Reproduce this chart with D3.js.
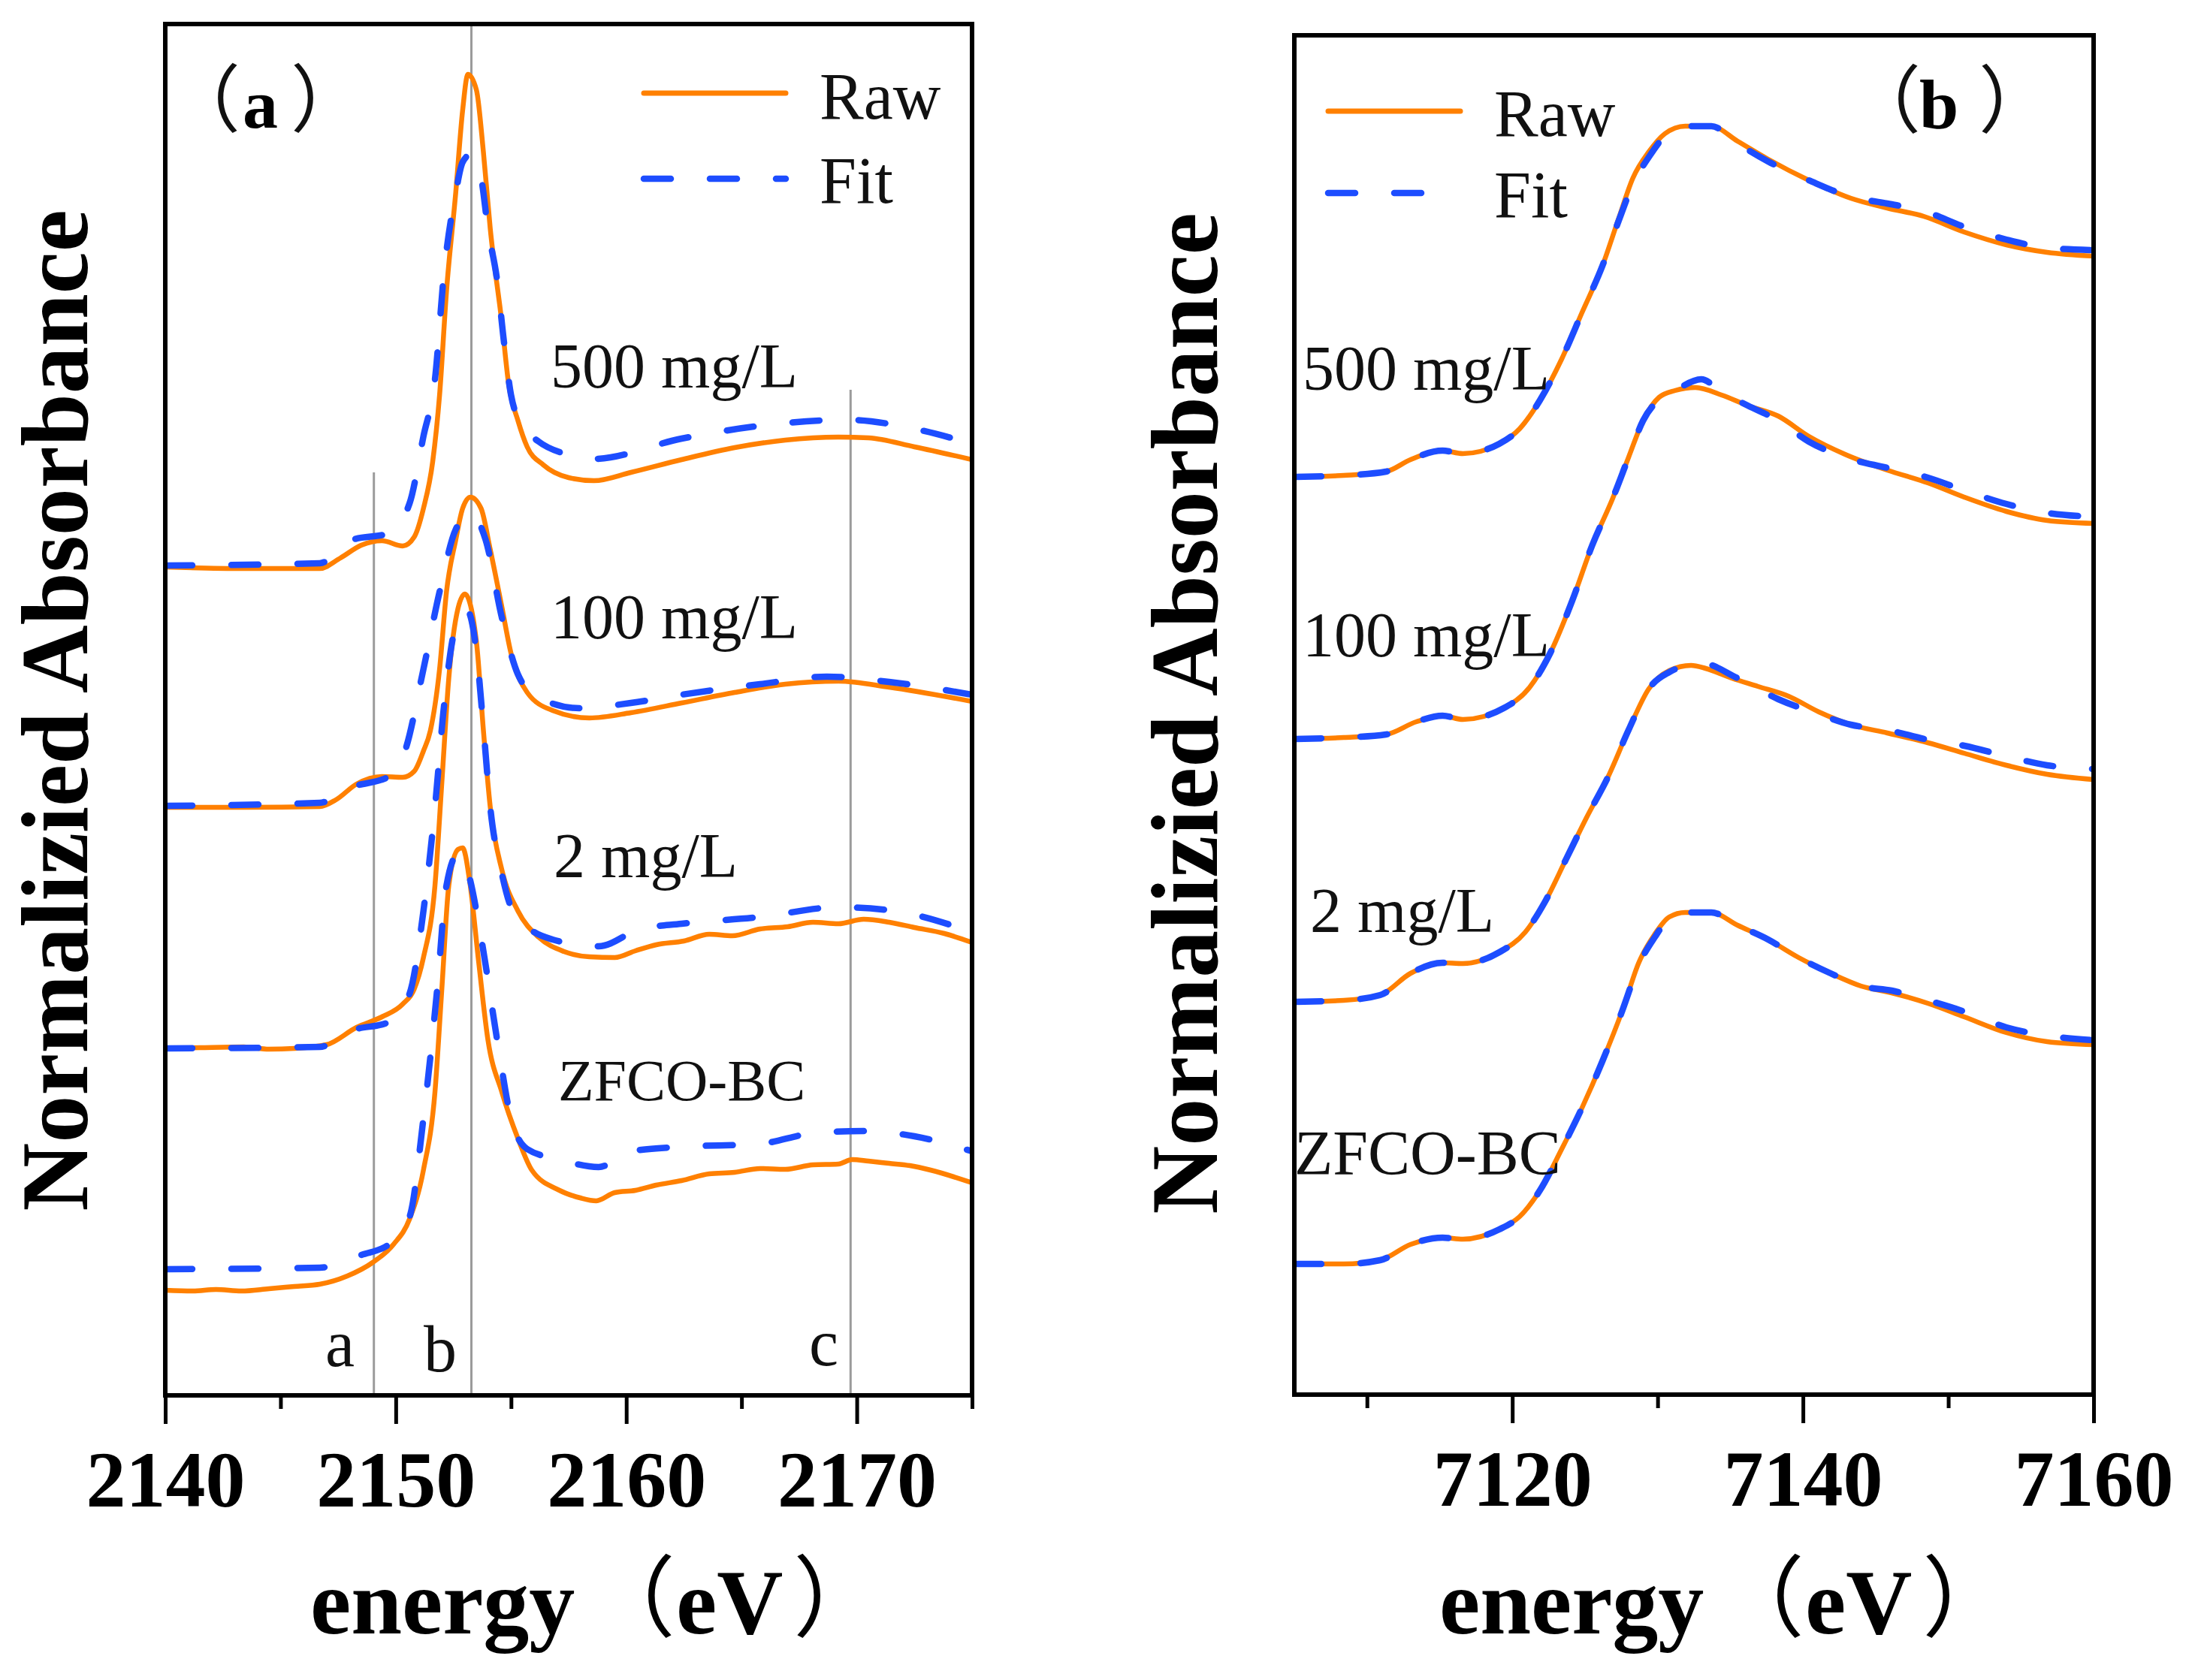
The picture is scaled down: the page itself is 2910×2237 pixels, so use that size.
<!DOCTYPE html>
<html>
<head>
<meta charset="utf-8">
<script src="https://cdn.jsdelivr.net/npm/d3@7"></script>
<style>
  html, body { margin: 0; padding: 0; background: #fff; }
  svg { display: block; }
</style>
</head>
<body>
<div id="chart"></div>
<script>
// ---- panel (a): S K-edge, [energy eV, offset normalized absorbance] ----
const aRaw500 = [[2140,11.03],[2143.4,11.01],[2146.7,11.01],[2147.6,11.15],[2148.5,11.32],[2149.4,11.38],[2150.3,11.31],[2150.8,11.43],[2151.2,11.81],[2151.6,12.43],[2151.9,13.32],[2152.2,14.70],[2152.6,16.01],[2152.9,17.11],[2153.13,17.59],[2153.5,17.38],[2153.8,16.56],[2154.1,15.53],[2154.6,14.29],[2154.9,13.46],[2155.3,12.98],[2155.7,12.63],[2156.4,12.39],[2157.5,12.22],[2158.6,12.18],[2160.2,12.29],[2162.4,12.46],[2164.7,12.62],[2166.9,12.72],[2169.2,12.76],[2170.5,12.75],[2172.5,12.63],[2175,12.46]];
const aFit500 = [[2140,11.05],[2146.7,11.08],[2148.1,11.39],[2149.7,11.48],[2150.6,11.88],[2151.2,12.77],[2151.7,13.53],[2152.1,14.97],[2152.6,16.01],[2152.9,16.42],[2153.24,16.52],[2153.7,16.21],[2154.0,15.53],[2154.4,14.84],[2154.7,14.01],[2155.0,13.32],[2155.5,12.91],[2156.2,12.70],[2157.3,12.54],[2158.6,12.47],[2162.4,12.74],[2165.8,12.91],[2169.6,12.99],[2172.5,12.87],[2175,12.67]];
const aRaw100 = [[2140,7.83],[2143.4,7.83],[2146.7,7.84],[2147.4,7.93],[2148.3,8.14],[2149.4,8.24],[2150.3,8.23],[2150.8,8.31],[2151.2,8.58],[2151.5,8.85],[2151.9,9.67],[2152.2,10.70],[2152.6,11.39],[2152.9,11.81],[2153.24,11.96],[2153.7,11.81],[2154.1,11.26],[2154.6,10.50],[2155.0,9.88],[2155.7,9.36],[2156.8,9.12],[2158.4,9.02],[2160.2,9.09],[2162.4,9.22],[2164.7,9.36],[2166.9,9.47],[2169.2,9.51],[2171.4,9.43],[2175,9.24]];
const aFit100 = [[2140,7.85],[2146.7,7.89],[2148.1,8.10],[2149.7,8.24],[2150.4,8.58],[2151.2,9.67],[2151.9,10.70],[2152.6,11.53],[2153.24,11.74],[2153.9,11.39],[2154.6,10.36],[2155.3,9.60],[2156.2,9.29],[2158.0,9.15],[2160.2,9.22],[2162.4,9.33],[2165.8,9.47],[2168.7,9.57],[2171.4,9.50],[2175,9.33]];
const aRaw2 = [[2140,4.62],[2141.5,4.63],[2143.4,4.64],[2144.5,4.61],[2145.6,4.62],[2147.0,4.67],[2148.3,4.90],[2149.4,5.04],[2150.3,5.21],[2150.8,5.41],[2151.2,5.83],[2151.7,6.79],[2152.0,8.17],[2152.3,9.55],[2152.7,10.48],[2153.0,10.67],[2153.5,10.03],[2153.8,8.86],[2154.1,7.83],[2154.6,7.00],[2155.3,6.45],[2156.2,6.10],[2157.3,5.91],[2158.4,5.84],[2159.5,5.83],[2160.4,5.92],[2161.3,6.00],[2162.5,6.05],[2163.6,6.14],[2164.6,6.12],[2165.8,6.21],[2167.0,6.24],[2168.1,6.30],[2169.2,6.28],[2170.3,6.34],[2171.4,6.30],[2172.5,6.23],[2173.8,6.15],[2175,6.03]];
const aFit2 = [[2140,4.62],[2146.7,4.64],[2148.1,4.86],[2149.7,4.97],[2150.6,5.35],[2151.2,6.45],[2151.7,7.83],[2152.1,9.20],[2152.6,10.24],[2153.1,10.45],[2153.5,9.90],[2153.8,8.90],[2154.1,7.83],[2154.6,6.95],[2155.0,6.50],[2155.7,6.24],[2156.8,6.07],[2158.8,5.98],[2160.6,6.21],[2162.4,6.28],[2165.8,6.37],[2169.2,6.50],[2171.4,6.46],[2175,6.17]];
const aRawZ = [[2140,1.40],[2141.2,1.39],[2142.2,1.41],[2143.3,1.39],[2144.5,1.42],[2145.6,1.45],[2146.7,1.48],[2147.9,1.59],[2149.0,1.77],[2149.9,2.01],[2150.6,2.35],[2151.2,3.00],[2151.7,4.04],[2152.0,5.42],[2152.3,6.79],[2152.7,7.27],[2152.9,7.29],[2153.2,6.86],[2153.6,5.76],[2154.0,4.73],[2154.6,4.04],[2155.3,3.42],[2155.9,3.00],[2157.1,2.73],[2158.0,2.63],[2158.7,2.59],[2159.5,2.70],[2160.4,2.73],[2161.3,2.80],[2162.4,2.86],[2163.6,2.95],[2164.7,2.97],[2165.8,3.02],[2166.9,3.01],[2168.1,3.07],[2169.2,3.08],[2169.8,3.14],[2170.5,3.12],[2171.4,3.09],[2172.3,3.06],[2173.2,3.00],[2175,2.83]];
const aFitZ = [[2140,1.68],[2146.7,1.70],[2148.5,1.87],[2149.7,2.01],[2150.6,2.38],[2151.2,3.69],[2151.8,5.42],[2152.2,6.79],[2152.7,7.21],[2153.1,7.00],[2153.7,6.10],[2154.4,4.73],[2155.0,3.69],[2155.7,3.28],[2157.1,3.14],[2158.8,3.04],[2160.2,3.25],[2162.4,3.31],[2165.8,3.35],[2168.1,3.49],[2170.3,3.52],[2172.5,3.45],[2175,3.25]];

// ---- panel (b): Fe K-edge ----
const bRaw500 = [[7105,12.22],[7108.4,12.24],[7111.3,12.29],[7113.0,12.45],[7115.2,12.57],[7116.6,12.53],[7119.1,12.66],[7120.5,12.86],[7121.9,13.24],[7123.4,13.79],[7124.8,14.41],[7126.2,15.03],[7127.3,15.65],[7128.3,16.20],[7129.4,16.55],[7130.5,16.79],[7131.9,16.89],[7133.7,16.89],[7135.5,16.69],[7137.6,16.45],[7140.4,16.17],[7143.3,15.93],[7145.8,15.80],[7148.3,15.69],[7151.1,15.48],[7154.0,15.31],[7156.8,15.21],[7160,15.16]];
const bFit500 = [[7105,12.22],[7108.4,12.24],[7111.3,12.29],[7113.0,12.45],[7115.2,12.57],[7116.6,12.53],[7119.1,12.66],[7120.5,12.86],[7121.9,13.24],[7123.4,13.79],[7124.8,14.41],[7126.2,15.03],[7127.3,15.62],[7128.3,16.12],[7129.4,16.48],[7130.5,16.76],[7131.9,16.89],[7133.7,16.89],[7135.5,16.66],[7137.6,16.42],[7140.4,16.17],[7143.3,15.95],[7145.8,15.86],[7148.3,15.76],[7151.1,15.55],[7154.0,15.38],[7156.8,15.27],[7160,15.24]];
const bRaw100 = [[7105,8.73],[7108.4,8.75],[7111.3,8.79],[7113.4,8.96],[7115.2,9.04],[7116.6,8.99],[7119.4,9.14],[7121.2,9.42],[7122.6,9.87],[7124.1,10.56],[7125.5,11.31],[7126.9,11.93],[7128.0,12.48],[7129.0,12.97],[7130.1,13.28],[7131.2,13.37],[7132.6,13.41],[7134.4,13.31],[7136.2,13.17],[7138.3,13.03],[7140.4,12.76],[7142.9,12.52],[7145.8,12.31],[7148.6,12.14],[7151.1,11.95],[7154.0,11.76],[7156.8,11.64],[7160,11.60]];
const bFit100 = [[7105,8.73],[7108.4,8.75],[7111.3,8.79],[7113.4,8.96],[7115.2,9.04],[7116.6,8.99],[7119.4,9.14],[7121.2,9.42],[7122.6,9.87],[7124.1,10.56],[7125.5,11.31],[7126.9,11.93],[7128.0,12.48],[7129.0,12.97],[7130.1,13.25],[7131.2,13.37],[7133.0,13.52],[7134.4,13.35],[7136.2,13.17],[7138.3,12.97],[7140.4,12.69],[7142.9,12.48],[7145.8,12.34],[7148.6,12.21],[7151.1,12.04],[7154.0,11.86],[7156.8,11.74],[7160,11.69]];
const bRaw2 = [[7105,5.23],[7108.4,5.25],[7110.9,5.32],[7113.0,5.61],[7115.2,5.75],[7116.6,5.74],[7119.1,5.89],[7120.9,6.16],[7122.3,6.58],[7123.7,7.13],[7125.1,7.68],[7126.6,8.23],[7128.0,8.85],[7129.4,9.40],[7130.8,9.64],[7132.3,9.71],[7133.3,9.67],[7135.1,9.54],[7136.9,9.43],[7139.0,9.30],[7141.1,9.09],[7143.3,8.92],[7145.8,8.81],[7148.6,8.68],[7151.1,8.54],[7154.0,8.38],[7156.8,8.26],[7160,8.19]];
const bFit2 = [[7105,5.23],[7108.4,5.25],[7110.9,5.32],[7113.0,5.61],[7115.2,5.75],[7116.6,5.74],[7119.1,5.89],[7120.9,6.16],[7122.3,6.58],[7123.7,7.13],[7125.1,7.68],[7126.6,8.23],[7128.0,8.85],[7129.4,9.40],[7130.8,9.62],[7133.0,9.74],[7135.5,9.54],[7138.3,9.26],[7141.1,9.06],[7143.3,8.92],[7145.8,8.85],[7148.6,8.72],[7151.1,8.64],[7154.0,8.50],[7156.8,8.38],[7160,8.33]];
const bRawZ = [[7105,1.74],[7108.4,1.74],[7110.9,1.79],[7113.0,2.00],[7115.2,2.09],[7116.6,2.07],[7119.1,2.20],[7120.5,2.37],[7121.9,2.72],[7123.4,3.27],[7124.8,3.82],[7126.2,4.44],[7127.6,5.13],[7128.7,5.75],[7129.8,6.13],[7130.8,6.36],[7131.9,6.42],[7133.7,6.42],[7135.5,6.25],[7137.6,6.06],[7139.7,5.82],[7141.9,5.61],[7144.0,5.44],[7146.1,5.35],[7148.6,5.21],[7151.1,5.03],[7154.0,4.82],[7156.8,4.70],[7160,4.66]];
const bFitZ = [[7105,1.74],[7108.4,1.74],[7110.9,1.79],[7113.0,2.00],[7115.2,2.09],[7116.6,2.07],[7119.1,2.20],[7120.5,2.37],[7121.9,2.72],[7123.4,3.27],[7124.8,3.82],[7126.2,4.44],[7127.6,5.13],[7128.7,5.72],[7129.8,6.09],[7130.8,6.34],[7131.9,6.42],[7133.7,6.42],[7135.5,6.25],[7137.6,6.06],[7139.7,5.82],[7141.9,5.61],[7144.0,5.44],[7146.1,5.38],[7148.6,5.25],[7151.1,5.10],[7154.0,4.89],[7156.8,4.78],[7160,4.72]];

// sample names with label anchors [energy, value]
const sampleNames = ["500 mg/L", "100 mg/L", "2 mg/L", "ZFCO-BC"];
const aLabelAt = [[2156.72,13.42],[2156.72,10.08],[2156.85,6.90],[2157.04,3.93]];
const bLabelAt = [[7105.57,13.38],[7105.57,9.83],[7106.09,6.16],[7105.0,2.93]];

// feature lines a, b, c in panel (a): energy, top value, letter position
const featNames = ["a", "b", "c"];
const featEnergy = [2149.05, 2153.28, 2169.73];
const featTop = [12.29, 18.26, 13.39];
const featLetterAt = [[2146.94,0.39],[2151.21,0.32],[2167.93,0.40]];

const aMajor = [2140, 2150, 2160, 2170], aMinor = [2145, 2155, 2165, 2175];
const bMajor = [7120, 7140, 7160], bMinor = [7110, 7130, 7150];

const W = 2910, H = 2237;
const serif = "'Liberation Serif', 'Times New Roman', 'Noto Sans CJK SC', serif";
const cjk = "'Noto Sans CJK SC', 'Noto Sans CJK JP', sans-serif";
const orange = "#ff8000", blue = "#1d4dff";
const dash = "36,52";

const svg = d3.select("#chart").append("svg")
    .attr("width", W)
    .attr("height", H)
    .style("background", "#fff");

const panels = [
    {id: "a", x0: 220, x1: 1294, y0: 32, y1: 1858, domain: [2140, 2175], yMax: 18.26,
     major: aMajor, minor: aMinor,
     raw: [aRaw500, aRaw100, aRaw2, aRawZ], fit: [aFit500, aFit100, aFit2, aFitZ],
     labelAt: aLabelAt, labelSize: [84, 84, 84, 78],
     legend: {x0: 857, x1: 1046, tx: 1091, rawY: 124, rawBase: 158, fitY: 238, fitBase: 270},
     tag: {lp: 222, letter: 323, rp: 387, y: 170}, yTitle: {x: 116, y: 946},
     xTitle: {x: 413, lp: 781, unit: 900, rp: 1056, y: 2175}, feats: true},
    {id: "b", x0: 1723, x1: 2787, y0: 47, y1: 1857, domain: [7105, 7160], yMax: 18.10,
     major: bMajor, minor: bMinor,
     raw: [bRaw500, bRaw100, bRaw2, bRawZ], fit: [bFit500, bFit100, bFit2, bFitZ],
     labelAt: bLabelAt, labelSize: [84, 84, 84, 84],
     legend: {x0: 1768, x1: 1944, tx: 1989, rawY: 148, rawBase: 181, fitY: 257, fitBase: 289},
     tag: {lp: 2459, letter: 2555, rp: 2634, y: 171}, yTitle: {x: 1620, y: 950},
     xTitle: {x: 1916, lp: 2284, unit: 2403, rp: 2559, y: 2175}, feats: false}
];

panels.forEach(drawPanel);

function drawPanel(p) {
    const x = d3.scaleLinear().domain(p.domain).range([p.x0, p.x1]);
    const y = d3.scaleLinear().domain([0, p.yMax]).range([p.y1, p.y0]);
    const g = svg.append("g");

    g.append("clipPath").attr("id", "clip-" + p.id)
        .append("rect")
        .attr("x", p.x0).attr("y", p.y0)
        .attr("width", p.x1 - p.x0).attr("height", p.y1 - p.y0);

    // grey feature lines
    if (p.feats) {
        g.selectAll("line.feat")
            .data(featEnergy)
            .join("line")
            .attr("class", "feat")
            .attr("x1", d => x(d)).attr("x2", d => x(d))
            .attr("y1", (d, i) => y(featTop[i])).attr("y2", y(0))
            .attr("stroke", "#9b9b9b")
            .attr("stroke-width", 3);
        g.selectAll("text.feat")
            .data(featNames)
            .join("text")
            .attr("class", "feat")
            .attr("x", (d, i) => x(featLetterAt[i][0]))
            .attr("y", (d, i) => y(featLetterAt[i][1]))
            .attr("font-family", serif)
            .attr("font-size", 88)
            .attr("fill", "#111")
            .text(d => d);
    }

    const line = d3.line()
        .x(d => x(d[0]))
        .y(d => y(d[1]))
        .curve(d3.curveMonotoneX);

    const curves = g.append("g").attr("clip-path", `url(#clip-${p.id})`);
    curves.selectAll("path.raw")
        .data(p.raw)
        .join("path")
        .attr("class", "raw")
        .attr("d", line)
        .attr("fill", "none")
        .attr("stroke", orange)
        .attr("stroke-width", 6.5)
        .attr("stroke-linejoin", "round");
    curves.selectAll("path.fit")
        .data(p.fit)
        .join("path")
        .attr("class", "fit")
        .attr("d", line)
        .attr("fill", "none")
        .attr("stroke", blue)
        .attr("stroke-width", 8.5)
        .attr("stroke-linecap", "round")
        .attr("stroke-dasharray", dash);

    // sample labels
    g.selectAll("text.sample")
        .data(sampleNames)
        .join("text")
        .attr("class", "sample")
        .attr("x", (d, i) => x(p.labelAt[i][0]))
        .attr("y", (d, i) => y(p.labelAt[i][1]))
        .attr("font-family", serif)
        .attr("font-size", (d, i) => p.labelSize[i])
        .attr("fill", "#111")
        .text(d => d);

    // frame
    g.append("rect")
        .attr("x", p.x0).attr("y", p.y0)
        .attr("width", p.x1 - p.x0).attr("height", p.y1 - p.y0)
        .attr("fill", "none")
        .attr("stroke", "#000")
        .attr("stroke-width", 6);

    // axes
    const minorAxis = g.append("g")
        .attr("transform", `translate(0,${p.y1})`)
        .call(d3.axisBottom(x).tickValues(p.minor).tickSize(18).tickFormat(""));
    const majorAxis = g.append("g")
        .attr("transform", `translate(0,${p.y1})`)
        .call(d3.axisBottom(x).tickValues(p.major).tickSize(38).tickFormat(d3.format("d")));
    [minorAxis, majorAxis].forEach(ax => {
        ax.select(".domain").remove();
        ax.selectAll(".tick line").attr("stroke", "#000").attr("stroke-width", 5);
    });
    majorAxis.selectAll(".tick text")
        .attr("y", 148)
        .attr("dy", null)
        .attr("fill", "#000")
        .attr("font-family", serif)
        .attr("font-weight", "bold")
        .attr("font-size", 106);

    // legend
    const lg = p.legend;
    g.append("line")
        .attr("x1", lg.x0).attr("x2", lg.x1)
        .attr("y1", lg.rawY).attr("y2", lg.rawY)
        .attr("stroke", orange).attr("stroke-width", 7)
        .attr("stroke-linecap", "round");
    g.append("line")
        .attr("x1", lg.x0).attr("x2", lg.x1)
        .attr("y1", lg.fitY).attr("y2", lg.fitY)
        .attr("stroke", blue).attr("stroke-width", 8.5)
        .attr("stroke-linecap", "round")
        .attr("stroke-dasharray", dash);
    g.append("text").attr("x", lg.tx).attr("y", lg.rawBase)
        .attr("font-family", serif).attr("font-size", 88).attr("fill", "#111").text("Raw");
    g.append("text").attr("x", lg.tx).attr("y", lg.fitBase)
        .attr("font-family", serif).attr("font-size", 88).attr("fill", "#111").text("Fit");

    // panel tag （a） / （b）
    const t = p.tag;
    g.append("text").attr("x", t.lp).attr("y", t.y - 3)
        .attr("font-family", cjk).attr("font-size", 98).attr("fill", "#111").text("（");
    g.append("text").attr("x", t.letter).attr("y", t.y)
        .attr("font-family", serif).attr("font-weight", "bold").attr("font-size", 94)
        .attr("fill", "#000").text(p.id);
    g.append("text").attr("x", t.rp).attr("y", t.y - 3)
        .attr("font-family", cjk).attr("font-size", 98).attr("fill", "#111").text("）");

    // axis titles
    g.append("text")
        .attr("transform", `translate(${p.yTitle.x},${p.yTitle.y}) rotate(-90)`)
        .attr("text-anchor", "middle")
        .attr("font-family", serif)
        .attr("font-weight", "bold")
        .attr("font-size", 126)
        .text("Normalizied Absorbance");

    // energy（eV）, pieces placed separately so the full-width brackets keep their spacing
    const xt = p.xTitle;
    g.append("text").attr("x", xt.x).attr("y", xt.y)
        .attr("font-family", serif).attr("font-weight", "bold").attr("font-size", 122)
        .text("energy");
    g.append("text").attr("x", xt.lp).attr("y", xt.y - 5)
        .attr("font-family", cjk).attr("font-size", 118).text("（");
    g.append("text").attr("x", xt.unit).attr("y", xt.y)
        .attr("font-family", serif).attr("font-weight", "bold").attr("font-size", 122)
        .text("eV");
    g.append("text").attr("x", xt.rp).attr("y", xt.y - 5)
        .attr("font-family", cjk).attr("font-size", 118).text("）");
}
</script>
</body>
</html>
